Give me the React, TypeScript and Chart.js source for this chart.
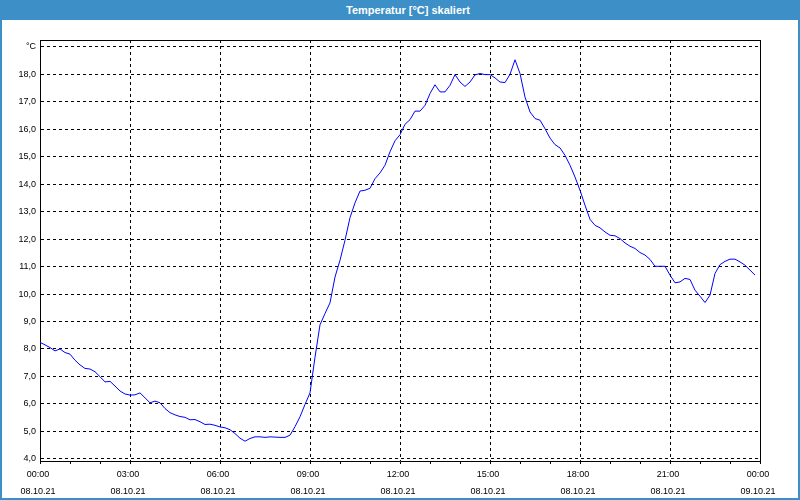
import React, { useEffect, useRef } from 'react';
import { Chart, registerables } from 'chart.js';

Chart.register(...registerables);

const chartTitle = 'Temperatur [°C] skaliert';

// one reading every 10 minutes, starting 08.10.21 00:00
const sampleMinutes = 10;
const temperatures = [
  8.24, 8.15, 8.05, 7.93, 8.0, 7.87, 7.81, 7.59, 7.42, 7.29,
  7.27, 7.17, 6.99, 6.8, 6.82, 6.65, 6.47, 6.36, 6.32, 6.33,
  6.4, 6.22, 6.04, 6.1, 6.04, 5.83, 5.68, 5.6, 5.54, 5.51,
  5.42, 5.43, 5.35, 5.25, 5.26, 5.22, 5.16, 5.13, 5.06, 4.92,
  4.75, 4.64, 4.74, 4.8, 4.8, 4.78, 4.8, 4.79, 4.78, 4.78,
  4.86, 5.17, 5.53, 5.98, 6.4, 7.7, 8.88, 9.29, 9.68, 10.62,
  11.23, 11.96, 12.78, 13.32, 13.75, 13.78, 13.85, 14.2, 14.41, 14.69,
  15.18, 15.58, 15.8, 16.18, 16.35, 16.66, 16.66, 16.87, 17.3, 17.62,
  17.36, 17.36, 17.6, 17.99, 17.72, 17.56, 17.72, 17.98, 18.03, 17.99,
  17.99, 17.87, 17.72, 17.7, 18.0, 18.53, 18.03, 17.17, 16.63, 16.39,
  16.33, 16.02, 15.68, 15.44, 15.32, 15.05, 14.69, 14.26, 13.78, 13.23,
  12.72, 12.5, 12.41, 12.26, 12.14, 12.12, 12.02, 11.86, 11.74, 11.66,
  11.51, 11.42, 11.26, 11.01, 11.01, 11.01, 10.69, 10.41, 10.44, 10.57,
  10.53, 10.14, 9.92, 9.69, 9.96, 10.75, 11.07, 11.19, 11.27, 11.27,
  11.17, 11.05, 10.87, 10.69,
];

const xRangeMinutes = 1440;
const xMajorStepMinutes = 180;
const xMinorStepMinutes = 60;
const xTickTimes = ['00:00', '03:00', '06:00', '09:00', '12:00', '15:00', '18:00', '21:00', '00:00'];
const xTickDates = ['08.10.21', '08.10.21', '08.10.21', '08.10.21', '08.10.21', '08.10.21', '08.10.21', '08.10.21', '09.10.21'];

const yMin = 3.92;
const yMax = 19.25;
const yTickValues = [4, 5, 6, 7, 8, 9, 10, 11, 12, 13, 14, 15, 16, 17, 18, 19];
const yTickLabels = ['4,0', '5,0', '6,0', '7,0', '8,0', '9,0', '10,0', '11,0', '12,0', '13,0', '14,0', '15,0', '16,0', '17,0', '18,0', '°C'];

const FONT = 'Liberation Sans';
const FRAME_BLUE = '#3c8fc7';

const framePlugin = {
  id: 'plotFrame',
  afterDraw(chart: any) {
    const { ctx, chartArea } = chart;
    const { left, top, right, bottom } = chartArea;
    ctx.save();
    ctx.strokeStyle = '#000';
    ctx.lineWidth = 1;
    ctx.setLineDash([]);
    ctx.beginPath();
    ctx.moveTo(Math.round(left), Math.round(top) + 0.5);
    ctx.lineTo(Math.round(right) + 0.5, Math.round(top) + 0.5);
    ctx.lineTo(Math.round(right) + 0.5, Math.round(bottom));
    ctx.stroke();
    ctx.restore();
  },
};

export default function App() {
  const canvasRef = useRef<HTMLCanvasElement | null>(null);

  useEffect(() => {
    const canvas = canvasRef.current;
    if (!canvas) return;
    const points = temperatures.map((t, i) => ({ x: i * sampleMinutes, y: t }));
    const chart = new Chart(canvas, {
      type: 'line',
      data: {
        datasets: [
          {
            data: points,
            borderColor: '#0000ff',
            borderWidth: 1,
            pointRadius: 0,
            tension: 0,
            fill: false,
          },
        ],
      },
      options: {
        responsive: false,
        animation: false,
        layout: { padding: { top: 40, right: 40, left: 0, bottom: 0 } },
        plugins: {
          legend: { display: false },
          tooltip: { enabled: false },
          title: { display: false },
        },
        scales: {
          x: {
            type: 'linear',
            min: 0,
            max: xRangeMinutes,
            afterBuildTicks: (s: any) => {
              const t = [];
              for (let m = 0; m <= xRangeMinutes; m += xMinorStepMinutes) t.push({ value: m });
              s.ticks = t;
            },
            afterFit: (s: any) => {
              s.height = 39;
            },
            grid: {
              color: (c: any) =>
                c.tick && c.tick.value % xMajorStepMinutes === 0 ? '#000' : 'rgba(0,0,0,0)',
              tickColor: '#000',
              tickLength: 3,
              lineWidth: 1,
            },
            border: { display: true, color: '#000', width: 1, dash: [3, 3] },
            ticks: {
              autoSkip: false,
              maxRotation: 0,
              minRotation: 0,
              padding: 3,
              labelOffset: -2,
              color: '#000',
              font: { family: FONT, size: 9, lineHeight: 1.78 },
              callback: (v: any) => {
                const k = Number(v) / xMajorStepMinutes;
                if (Number.isInteger(k)) return [xTickTimes[k], xTickDates[k]];
                return '';
              },
            },
          },
          y: {
            min: yMin,
            max: yMax,
            afterBuildTicks: (s: any) => {
              s.ticks = yTickValues.map((v) => ({ value: v }));
            },
            afterFit: (s: any) => {
              s.width = 40;
            },
            grid: { color: '#000', drawTicks: false, lineWidth: 1 },
            border: { display: true, color: '#000', width: 1, dash: [3, 3] },
            ticks: {
              padding: 4,
              color: '#000',
              font: { family: FONT, size: 9 },
              callback: (v: any) => {
                const idx = yTickValues.indexOf(Number(v));
                return idx >= 0 ? yTickLabels[idx] : '';
              },
            },
          },
        },
      },
      plugins: [framePlugin],
    } as any);
    return () => chart.destroy();
  }, []);

  return (
    <div
      style={{
        position: 'fixed',
        left: 0,
        top: 0,
        width: 800,
        height: 500,
        background: '#ffffff',
        overflow: 'hidden',
      }}
    >
      <canvas
        ref={canvasRef}
        width={800}
        height={500}
        style={{ position: 'absolute', left: 0, top: 0, width: 800, height: 500 }}
      />
      <div
        style={{
          position: 'absolute',
          left: 0,
          top: 0,
          width: 800,
          height: 20,
          boxSizing: 'border-box',
          paddingLeft: 16,
          background: FRAME_BLUE,
          color: '#ffffff',
          fontFamily: FONT,
          fontWeight: 'bold',
          fontSize: 11,
          lineHeight: '20px',
          textAlign: 'center',
          whiteSpace: 'nowrap',
        }}
      >
        {chartTitle}
      </div>
      <div style={{ position: 'absolute', left: 0, top: 20, width: 2, height: 480, background: FRAME_BLUE }} />
      <div style={{ position: 'absolute', right: 0, top: 20, width: 2, height: 480, background: FRAME_BLUE }} />
      <div style={{ position: 'absolute', left: 0, bottom: 0, width: 800, height: 2, background: FRAME_BLUE }} />
    </div>
  );
}
